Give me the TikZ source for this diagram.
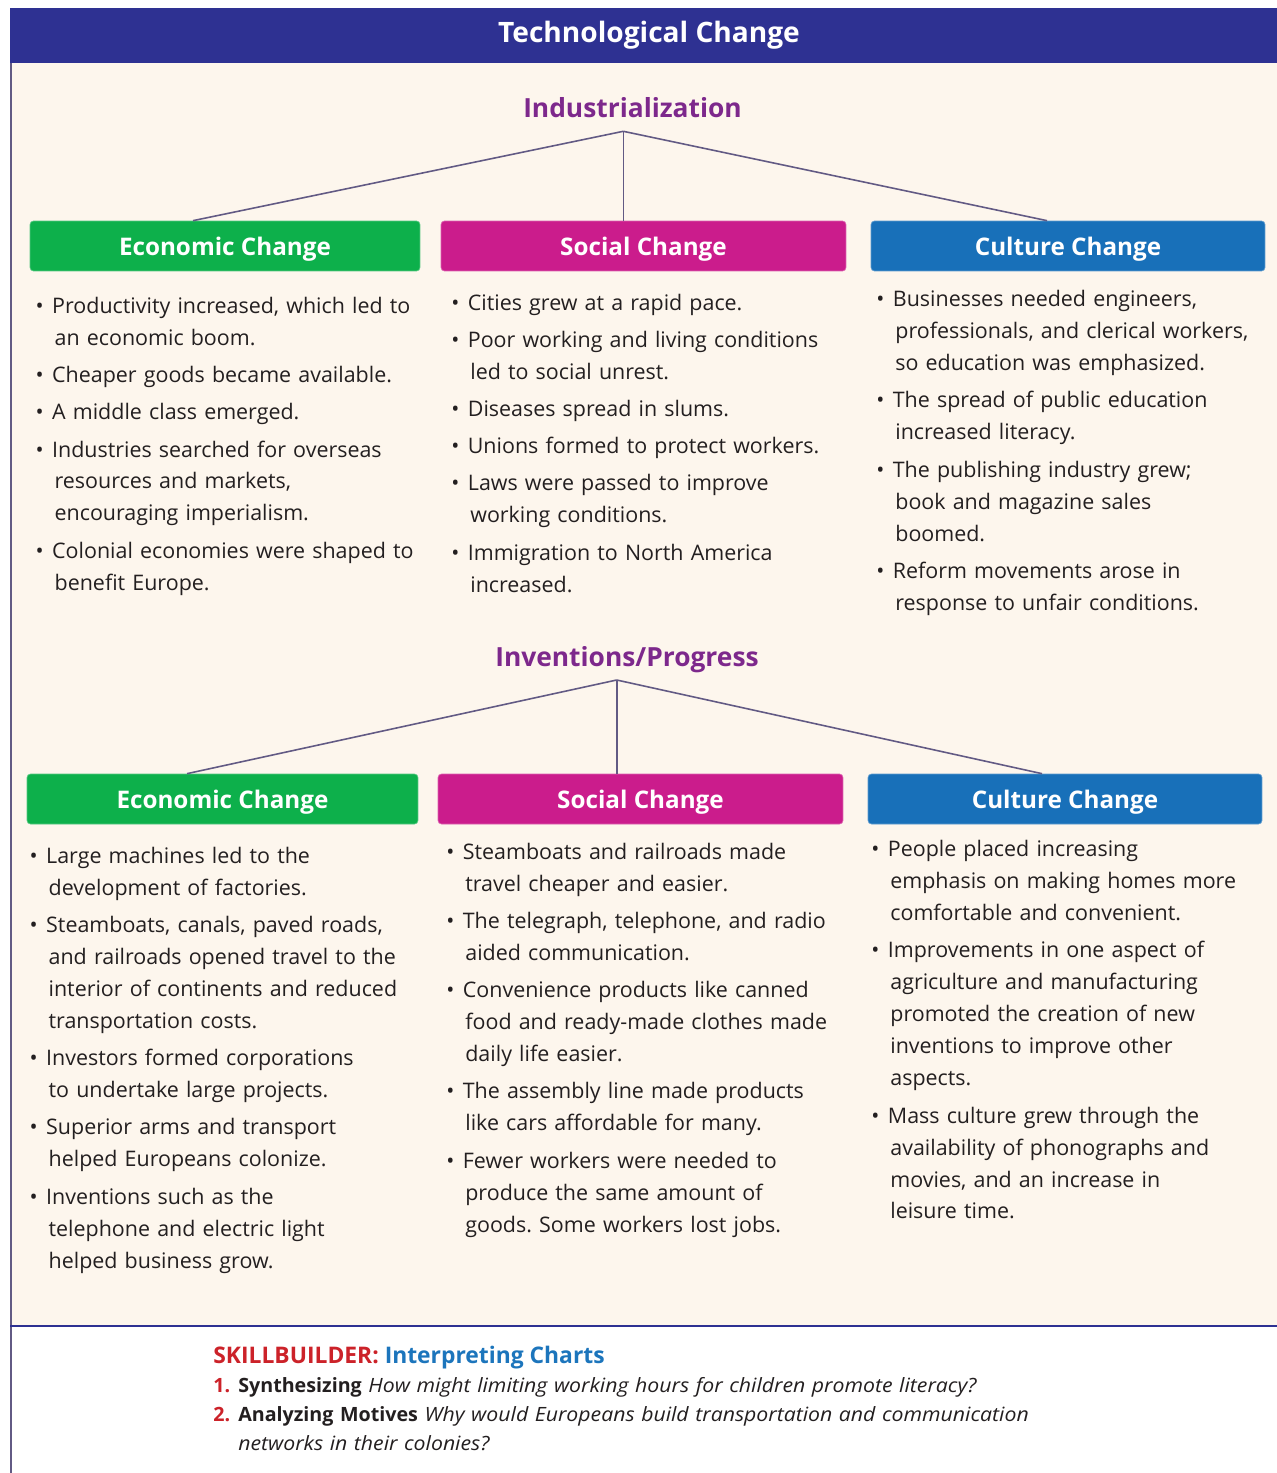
\documentclass[tikz,border=0pt]{standalone}
\usepackage{fontspec}
\setmainfont{Open Sans}
\frenchspacing
\definecolor{marine}{RGB}{46,49,146}
\definecolor{creme}{RGB}{253,246,237}
\definecolor{vert}{RGB}{13,176,75}
\definecolor{rose}{RGB}{203,28,140}
\definecolor{bleu}{RGB}{24,112,185}
\definecolor{violet}{RGB}{125,40,140}
\definecolor{trait}{RGB}{98,90,132}
\definecolor{encre}{RGB}{35,31,32}
\definecolor{rouge}{RGB}{204,34,41}
\definecolor{bleuclair}{RGB}{28,117,188}
% puce des listes
\newcommand{\puce}{\leavevmode\llap{\textbullet\hspace{6.2pt}}\hspace*{-1.4pt}}
\newcommand{\numq}[1]{\makebox[14.2pt][l]{\textcolor{rouge}{\bfseries #1}}}
\newcommand{\qit}[1]{{\itshape\addfontfeature{FakeStretch=1.08}#1}}
\begin{document}
\begin{tikzpicture}[x=0.02cm, y=-0.02cm,
	entete/.style={rounded corners=0.07cm, minimum height=1cm, text depth=0pt, text=white, font=\fontsize{13.8}{16}\selectfont\bfseries},
	liste/.style={anchor=base west, inner sep=0pt, text width=9cm, align=left, text=encre, font=\fontsize{12.2}{18.2}\selectfont},
	groupe/.style={anchor=base, inner sep=0pt, text=violet, font=\fontsize{15}{18}\selectfont\bfseries},
	lien/.style={trait, line width=0.9pt},
	question/.style={anchor=base west, inner sep=0pt, text width=20cm, align=left, text=encre, font=\fontsize{11.2}{16.1}\selectfont}]
	% le fond
	\useasboundingbox (0,0) rectangle (1277,1473);
	\fill[white] (0,0) rectangle (1277,1473);
	\fill[creme] (10,63) rectangle (1277,1326);
	\fill[marine] (10,8) rectangle (1277,63);
	\draw[trait, line width=0.9pt] (11,63) -- (11,1473);
	\draw[marine, line width=1.2pt] (10,1326) -- (1277,1326);
	\node[anchor=base, inner sep=0pt, text=white, font=\fontsize{16}{19}\selectfont\bfseries] (titre) at (649,42.3) {Technological Change};

	% industrialisation
	\node[groupe] (indus) at (632.5,118) {Industrialization};
	\coordinate (ind) at (623.3,131.3);
	\node[entete, fill=vert, draw=vert!70!white, minimum width=7.8cm] (eco1) at (225,246) {Economic Change};
	\node[entete, fill=rose, draw=rose!70!white, minimum width=8.1cm] (soc1) at (643.5,246) {Social Change};
	\node[entete, fill=bleu, draw=bleu!70!white, minimum width=7.88cm] (cul1) at (1068,246) {Culture Change};
	\draw[lien] (ind) -- ([xshift=-0.64cm]eco1.north);
	\draw[lien] (ind) -- (ind |- soc1.north);
	\draw[lien] (ind) -- ([xshift=-0.42cm]cul1.north);
	\node[liste] (eco1txt) at (54.3,313.3) {\puce Productivity increased, which led to\\ an economic boom.\\[3pt]
		\puce Cheaper goods became available.\\[3pt]
		\puce A middle class emerged.\\[3pt]
		\puce Industries searched for overseas\\ resources and markets,\\ encouraging imperialism.\\[3pt]
		\puce Colonial economies were shaped to\\ benefit Europe.};
	\node[liste] (soc1txt) at (470,310) {\puce Cities grew at a rapid pace.\\[3pt]
		\puce Poor working and living conditions\\ led to social unrest.\\[3pt]
		\puce Diseases spread in slums.\\[3pt]
		\puce Unions formed to protect workers.\\[3pt]
		\puce Laws were passed to improve\\ working conditions.\\[3pt]
		\puce Immigration to North America\\ increased.};
	\node[liste] (cul1txt) at (895,306.7) {\puce Businesses needed engineers,\\ professionals, and clerical workers,\\ so education was emphasized.\\[3pt]
		\puce The spread of public education\\ increased literacy.\\[3pt]
		\puce The publishing industry grew;\\ book and magazine sales\\ boomed.\\[3pt]
		\puce Reform movements arose in\\ response to unfair conditions.};

	% inventions et progres
	\node[groupe] (progres) at (627,666.7) {Inventions/Progress};
	\coordinate (inv) at (616.7,680);
	\node[entete, fill=vert, draw=vert!70!white, minimum width=7.82cm] (eco2) at (222.5,799) {Economic Change};
	\node[entete, fill=rose, draw=rose!70!white, minimum width=8.1cm] (soc2) at (640.5,799) {Social Change};
	\node[entete, fill=bleu, draw=bleu!70!white, minimum width=7.88cm] (cul2) at (1065,799) {Culture Change};
	\draw[lien] (inv) -- ([xshift=-0.71cm]eco2.north);
	\draw[lien] (inv) -- (inv |- soc2.north);
	\draw[lien] (inv) -- ([xshift=-0.46cm]cul2.north);
	\node[liste] (eco2txt) at (48.3,863.3) {\puce Large machines led to the\\ development of factories.\\[3pt]
		\puce Steamboats, canals, paved roads,\\ and railroads opened travel to the\\ interior of continents and reduced\\ transportation costs.\\[3pt]
		\puce Investors formed corporations\\ to undertake large projects.\\[3pt]
		\puce Superior arms and transport\\ helped Europeans colonize.\\[3pt]
		\puce Inventions such as the\\ telephone and electric light\\ helped business grow.};
	\node[liste] (soc2txt) at (465,859.3) {\puce Steamboats and railroads made\\ travel cheaper and easier.\\[3pt]
		\puce The telegraph, telephone, and radio\\ aided communication.\\[3pt]
		\puce Convenience products like canned\\ food and ready-made clothes made\\ daily life easier.\\[3pt]
		\puce The assembly line made products\\ like cars affordable for many.\\[3pt]
		\puce Fewer workers were needed to\\ produce the same amount of\\ goods. Some workers lost jobs.};
	\node[liste] (cul2txt) at (890,856.7) {\puce People placed increasing\\ emphasis on making homes more\\ comfortable and convenient.\\[3pt]
		\puce Improvements in one aspect of\\ agriculture and manufacturing\\ promoted the creation of new\\ inventions to improve other\\ aspects.\\[3pt]
		\puce Mass culture grew through the\\ availability of phonographs and\\ movies, and an increase in\\ leisure time.};

	% les questions
	\node[anchor=base west, inner sep=0pt, font=\fontsize{13}{15}\selectfont\bfseries] (skill) at (213,1363) {\textcolor{rouge}{SKILLBUILDER:} \textcolor{bleuclair}{Interpreting Charts}};
	\node[question] (q1) at (213,1392) {\numq{1.}\textbf{Synthesizing} \qit{How might limiting working hours for children promote literacy?}};
	\node[question] (q2) at (213,1421.7) {\numq{2.}\textbf{Analyzing Motives} \qit{Why would Europeans build transportation and communication}\\ \hspace*{14.2pt}\qit{networks in their colonies?}};
\end{tikzpicture}
\end{document}
